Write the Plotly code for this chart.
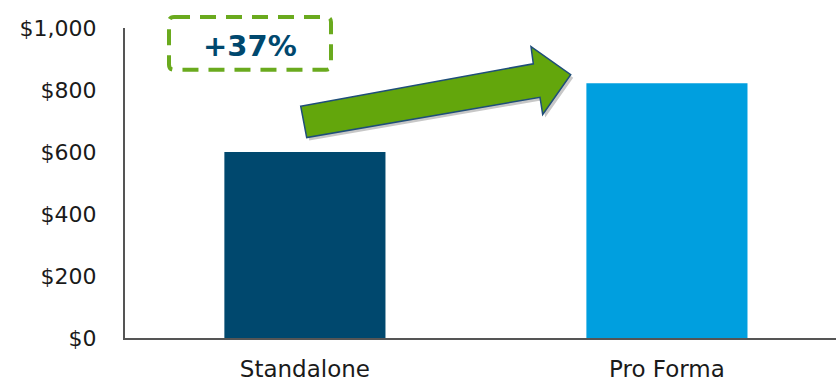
import plotly.graph_objects as go

categories = ["Standalone", "Pro Forma"]
values = [600, 822]
bar_colors = ["#00486E", "#009FDF"]
tick_vals = [0, 200, 400, 600, 800, 1000]
tick_text = ["$0", "$200", "$400", "$600", "$800", "$1,000"]
growth_label = "+37%"

W, H = 836, 382
L, R, T, B = 125, 0, 28, 42
PW, PH = W - L - R, H - T - B


def px(x, y):
    """pixel -> paper coords"""
    return (x - L) / PW, (H - B - y) / PH


def path(points, close=True):
    s = ""
    for i, (x, y) in enumerate(points):
        X, Y = px(x, y)
        s += ("M" if i == 0 else "L") + f"{X:.5f},{Y:.5f} "
    return s + ("Z" if close else "")


arrow_pts = [(300.7, 106.7), (533.3, 64.0), (531.0, 46.7), (570.7, 75.0),
             (542.7, 115.0), (540.0, 97.7), (306.7, 138.3)]
shadow_pts = [(x + 2.5, y + 3) for x, y in arrow_pts]

# rounded dashed box
bx0, by0, bx1, by1, r = 169, 17, 331, 70, 5


def rounded(x0, y0, x1, y1, r):
    def P(x, y):
        X, Y = px(x, y)
        return f"{X:.5f},{Y:.5f}"
    s = f"M{P(x0 + r, y0)} L{P(x1 - r, y0)} Q{P(x1, y0)} {P(x1, y0 + r)} "
    s += f"L{P(x1, y1 - r)} Q{P(x1, y1)} {P(x1 - r, y1)} "
    s += f"L{P(x0 + r, y1)} Q{P(x0, y1)} {P(x0, y1 - r)} "
    s += f"L{P(x0, y0 + r)} Q{P(x0, y0)} {P(x0 + r, y0)} Z"
    return s


fig = go.Figure(go.Bar(
    x=categories, y=values, marker_color=bar_colors, marker_line_width=0,
    width=0.445, hoverinfo="skip"))

FONT = "DejaVu Sans, Verdana, sans-serif"
fig.update_layout(
    width=W, height=H,
    margin=dict(l=L, r=R, t=T, b=B),
    plot_bgcolor="white", paper_bgcolor="white",
    font=dict(family=FONT, size=22, color="#1a1a1a"),
    showlegend=False,
    xaxis=dict(range=[-0.497, 1.467], showline=True, linecolor="#555555", linewidth=2,
               ticks="", showgrid=False, zeroline=False, tickfont=dict(size=23),
               ticklabelstandoff=9),
    yaxis=dict(range=[0, 1000], tickvals=tick_vals, ticktext=tick_text, showline=True,
               linecolor="#555555", linewidth=2, ticks="", showgrid=False, zeroline=False,
               tickfont=dict(size=22), ticklabelstandoff=22),
    shapes=[
        dict(type="path", xref="paper", yref="paper", path=path(shadow_pts),
             fillcolor="rgba(0,0,0,0.22)", line=dict(width=0), layer="above"),
        dict(type="path", xref="paper", yref="paper", path=path(arrow_pts),
             fillcolor="#63A60C", line=dict(color="#1F4E79", width=1.5), layer="above"),
        dict(type="path", xref="paper", yref="paper", path=rounded(bx0, by0, bx1, by1, r),
             fillcolor="rgba(0,0,0,0)", line=dict(color="#6AAA1E", width=4, dash="16px,10px"),
             layer="above"),
    ],
)

tx, ty = px(250, 46)
fig.add_annotation(x=tx, y=ty, xref="paper", yref="paper", text=f"<b>{growth_label}</b>",
                   showarrow=False, font=dict(size=29, color="#00486E", family=FONT),
                   xanchor="center", yanchor="middle")

fig.write_html("out.html", config={"displayModeBar": False},
               post_script="document.body.style.margin='0';document.body.style.overflow='hidden';")
